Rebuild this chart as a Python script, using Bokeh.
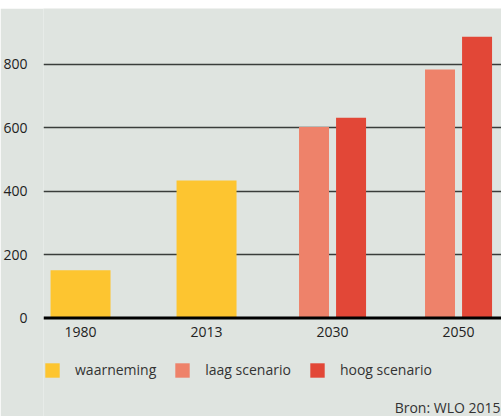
from bokeh.plotting import figure
from bokeh.layouts import column
from bokeh.models import (FixedTicker, Legend, LegendItem, Label, Range1d, Span,
                          ColumnDataSource, Spacer)
from bokeh.transform import dodge
from bokeh.core.properties import value
from bokeh.embed import file_html
from bokeh.resources import INLINE

# ---- data ----
years = ["1980", "2013", "2030", "2050"]
year_pos = [0, 1, 2, 3]
obs_pos = [0, 1]
waarneming = [151, 433]
scen_pos = [2, 3]
laag_scenario = [602, 783]
hoog_scenario = [631, 886]
y_ticks = [0, 200, 400, 600, 800]
series_names = ["waarneming", "laag scenario", "hoog scenario"]
source_note = "Bron: WLO 2015"

BG = "#DFE4E0"
C_OBS = "#FDC530"
C_LAAG = "#EE826A"
C_HOOG = "#E24737"
FONT = "Open Sans"

X_START, X_END = -0.294, 3.341

obs_src = ColumnDataSource(dict(x=obs_pos, y=waarneming))
scen_src = ColumnDataSource(dict(x=scen_pos, laag=laag_scenario, hoog=hoog_scenario))
lab_src = ColumnDataSource(dict(x=year_pos, y=[0] * len(year_pos), t=years))

p = figure(width=501, height=408, output_backend="svg", toolbar_location=None,
           x_range=Range1d(X_START, X_END), y_range=Range1d(-310, 975),
           min_border_left=43, min_border_right=0, min_border_top=0,
           min_border_bottom=0,
           background_fill_color=BG, border_fill_color=BG,
           outline_line_color=None)

r_obs = p.vbar(x="x", top="y", width=0.476, source=obs_src, color=C_OBS, line_color=None)
r_laag = p.vbar(x=dodge("x", -0.147, range=p.x_range), top="laag", width=0.238,
                source=scen_src, color=C_LAAG, line_color=None)
r_hoog = p.vbar(x=dodge("x", 0.147, range=p.x_range), top="hoog", width=0.238,
                source=scen_src, color=C_HOOG, line_color=None)

p.add_layout(Span(location=0, dimension="width", line_color="black", line_width=3))

# category labels under the zero line
p.text(x="x", y="y", text="t", source=lab_src, text_align="center",
       text_baseline="top", y_offset=9, text_font=value(FONT),
       text_font_size="14px", text_color="#222222")

# axes
p.xaxis.visible = False

p.yaxis.ticker = FixedTicker(ticks=y_ticks)
p.yaxis.axis_line_color = None
p.yaxis.major_tick_line_color = None
p.yaxis.minor_tick_line_color = None
p.yaxis.major_label_standoff = 10
p.yaxis.major_label_text_font = FONT
p.yaxis.major_label_text_font_size = "14px"
p.yaxis.major_label_text_color = "#222222"

p.xgrid.grid_line_color = None
p.ygrid.ticker = FixedTicker(ticks=y_ticks[1:])
p.ygrid.grid_line_color = "#3a3d3b"
p.ygrid.grid_line_width = 1.4

legend = Legend(items=[LegendItem(label=series_names[0], renderers=[r_obs]),
                       LegendItem(label=series_names[1], renderers=[r_laag]),
                       LegendItem(label=series_names[2], renderers=[r_hoog])],
                orientation="horizontal", location=(0, 37),
                glyph_width=18, glyph_height=18, label_standoff=14, spacing=17,
                padding=0, margin=0, label_text_font=FONT,
                label_text_font_size="14px", label_text_color="#333333",
                background_fill_alpha=0, border_line_color=None)
p.add_layout(legend)

p.add_layout(Label(x=X_END, y=9, x_offset=-1, x_units="data", y_units="screen",
                   text=source_note, text_align="right", text_baseline="middle",
                   text_font=FONT, text_font_size="14px", text_color="#333333"))

layout = column(Spacer(width=501, height=8), p, spacing=0)

open("out.html", "w").write(file_html(layout, INLINE))
